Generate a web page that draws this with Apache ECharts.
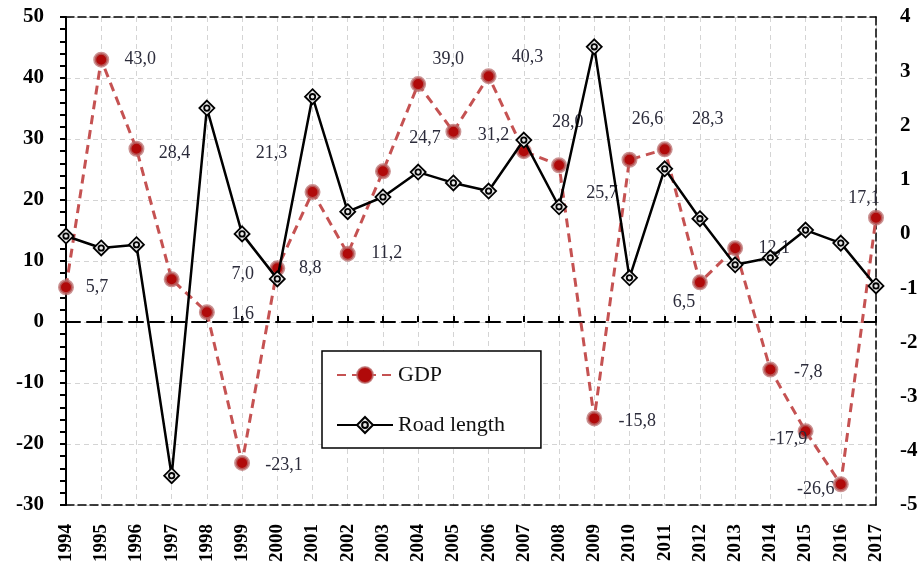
<!DOCTYPE html>
<html>
<head>
<meta charset="utf-8">
<script src="https://cdn.jsdelivr.net/npm/echarts@6/dist/echarts.min.js"></script>
<style>html,body{margin:0;padding:0;background:#fff;}#chart{width:921px;height:576px;}</style>
</head>
<body>
<div id="chart"></div>
<script>
const years = ['1994','1995','1996','1997','1998','1999','2000','2001','2002','2003','2004','2005','2006','2007','2008','2009','2010','2011','2012','2013','2014','2015','2016','2017'];
const gdp = [5.7, 43.0, 28.4, 7.0, 1.6, -23.1, 8.8, 21.3, 11.2, 24.7, 39.0, 31.2, 40.3, 28.0, 25.7, -15.8, 26.6, 28.3, 6.5, 12.1, -7.8, -17.9, -26.6, 17.1];
const roadLength = [-0.04, -0.26, -0.2, -4.46, 2.32, 0.0, -0.83, 2.53, 0.41, 0.68, 1.14, 0.94, 0.79, 1.73, 0.5, 3.45, -0.81, 1.2, 0.28, -0.57, -0.44, 0.07, -0.17, -0.96];
const leftAxisTicks = { min: -30, max: 50, step: 10 };
const rightAxisTicks = { min: -5, max: 4, step: 1 };
const seriesNames = ['GDP', 'Road length'];

// label placement (style only)
const gdpLabelOffsets = [[31,0],[39,0],[38,5],[71,-5],[36,2],[42,2],[33,0],[-41,-39],[39,0],[42,-33],[30,-25],[40,4],[39,-19],[44,-29],[43,28],[43,3],[18,-40],[43,-30],[-16,20],[39,0],[38,3],[-17,8],[-25,5],[-12,-19]];

const serif = '"Liberation Serif", "Times New Roman", serif';
const chart = echarts.init(document.getElementById('chart'));

const gdpData = gdp.map((v, i) => ({
  value: v,
  label: { offset: gdpLabelOffsets[i] }
}));

const roadSymbol = 'path://M0,-10 L10,0 L0,10 L-10,0 Z M0,-3.6 A3.6,3.6 0 1,1 0,3.6 A3.6,3.6 0 1,1 0,-3.6 Z';

chart.setOption({
  animation: false,
  backgroundColor: '#fff',
  grid: { left: 66, right: 45, top: 17, bottom: 71, containLabel: false },
  legend: {
    orient: 'vertical',
    left: 322, top: 351,
    data: seriesNames,
    backgroundColor: '#fff',
    borderColor: '#000',
    borderWidth: 1.5,
    padding: [13, 36, 12, 14],
    itemWidth: 56, itemHeight: 20, itemGap: 28,
    textStyle: { fontFamily: serif, fontSize: 22, color: '#111' }
  },
  xAxis: [
    {
      type: 'category', data: years, boundaryGap: false, position: 'bottom',
      axisLine: { onZero: false, lineStyle: { color: '#000', width: 1.5, type: [8, 4] } },
      axisTick: { show: false },
      axisLabel: { rotate: 90, margin: 19, fontFamily: serif, fontWeight: 'bold', fontSize: 19, color: '#000' },
      splitLine: { show: true, lineStyle: { color: '#d4d4d4', type: [5, 4], width: 1 } }
    },
    {
      type: 'category', data: years, boundaryGap: false, position: 'bottom',
      axisLine: { onZero: true, onZeroAxisIndex: 0, lineStyle: { color: '#000', width: 2, type: [14, 7] } },
      axisTick: { show: true, inside: true, length: 6, alignWithLabel: true, lineStyle: { color: '#000', width: 2 } },
      axisLabel: { show: false },
      splitLine: { show: false }
    },
    {
      type: 'category', data: years, boundaryGap: false, position: 'top',
      axisLine: { onZero: false, lineStyle: { color: '#000', width: 1.5, type: [8, 4] } },
      axisTick: { show: false },
      axisLabel: { show: false },
      splitLine: { show: false }
    }
  ],
  yAxis: [
    {
      type: 'value', min: leftAxisTicks.min, max: leftAxisTicks.max, interval: leftAxisTicks.step,
      position: 'left',
      axisLine: { show: true, onZero: false, lineStyle: { color: '#000', width: 2 } },
      axisTick: { show: true, length: 6, lineStyle: { color: '#000', width: 2 } },
      minorTick: { show: true, splitNumber: 5, length: 6, lineStyle: { color: '#000', width: 2 } },
      axisLabel: { margin: 22, fontFamily: serif, fontWeight: 'bold', fontSize: 21, color: '#000' },
      splitLine: { show: true, lineStyle: { color: '#d4d4d4', type: [5, 4], width: 1 } }
    },
    {
      type: 'value', min: rightAxisTicks.min, max: rightAxisTicks.max, interval: rightAxisTicks.step,
      position: 'right',
      axisLine: { show: true, onZero: false, lineStyle: { color: '#000', width: 1.5, type: [8, 4] } },
      axisTick: { show: false },
      axisLabel: { margin: 24, fontFamily: serif, fontWeight: 'bold', fontSize: 21, color: '#000' },
      splitLine: { show: false }
    }
  ],
  series: [
    {
      name: seriesNames[0], type: 'line', xAxisIndex: 0, yAxisIndex: 0,
      data: gdpData,
      symbol: 'circle', symbolSize: 13,
      lineStyle: { color: '#c55252', width: 3, type: [9, 6] },
      itemStyle: { color: '#b00a0a', borderColor: 'rgba(185,110,110,0.75)', borderWidth: 3 },
      label: {
        show: true, position: 'inside', align: 'center', verticalAlign: 'middle',
        fontFamily: serif, fontSize: 18, color: '#2b2b3a',
        formatter: p => p.value.toFixed(1).replace('.', ',')
      },
      emphasis: { disabled: true },
      z: 3
    },
    {
      name: seriesNames[1], type: 'line', xAxisIndex: 0, yAxisIndex: 1,
      data: roadLength,
      symbol: roadSymbol, symbolSize: 15,
      lineStyle: { color: '#000', width: 2.5 },
      itemStyle: { color: '#e8e8e8', borderColor: '#000', borderWidth: 1.8 },
      emphasis: { disabled: true },
      z: 4
    }
  ]
});
</script>
</body>
</html>
